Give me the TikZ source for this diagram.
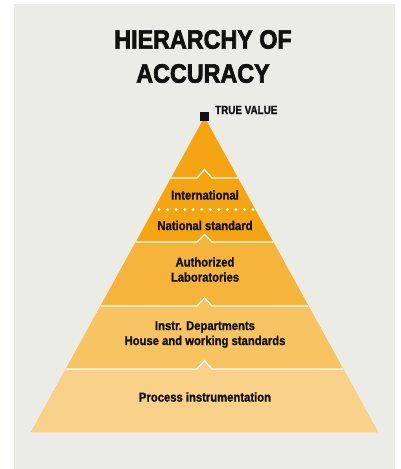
\documentclass[tikz,border=0pt]{standalone}
\usepackage{fontspec}
\setmainfont{Liberation Sans}
\newfontfamily\labfont[FakeStretch=0.88,FakeBold=1.2]{Liberation Sans}
\newfontfamily\titlefont[FakeStretch=0.88,FakeBold=2.5]{Liberation Sans}
\newfontfamily\tvfont[FakeStretch=0.82,FakeBold=1.2]{Liberation Sans}
\definecolor{bggray}{HTML}{ECECE7}
\definecolor{layA}{HTML}{F5A511}
\definecolor{layB}{HTML}{F6B43C}
\definecolor{layC}{HTML}{F8C462}
\definecolor{layD}{HTML}{FAD188}
\definecolor{ink}{HTML}{111111}
\begin{document}
\begin{tikzpicture}[x=1pt,y=-1pt,
  lab/.style={font=\labfont\bfseries\fontsize{12.8}{15}\selectfont, align=center, text=ink, inner sep=0pt},
  ttl/.style={font=\titlefont\bfseries\fontsize{26.5}{28}\selectfont, text=ink, inner sep=0pt},
  sep/.style={white, line width=1.2pt}]
\useasboundingbox (0,0) rectangle (401,469);
\fill[bggray] (14,4) rectangle (395,469);
% pyramid: apex (204.5,117), half width = 0.55*(y-117)
\fill[layA] (204.5,117) -- (377.75,432) -- (31.25,432) -- cycle;
% Authorized layer (242..306)
\fill[layB] (135.75,242) -- (197,242) -- (204.5,234.5) -- (212,242) -- (273.25,242) -- (308.45,306) -- (100.55,306) -- cycle;
% Instr layer (306..369)
\fill[layC] (100.55,306) -- (197,306) -- (204.5,298) -- (212,306) -- (308.45,306) -- (343.1,369) -- (65.9,369) -- cycle;
% Process layer (369..432)
\fill[layD] (65.9,369) -- (197,369) -- (204.5,360.5) -- (212,369) -- (343.1,369) -- (377.75,432) -- (31.25,432) -- cycle;
% separators
\draw[sep] (170.95,178) -- (197,178) -- (204.5,169.5) -- (212,178) -- (238.05,178);
\draw[sep] (135.75,242) -- (197,242) -- (204.5,234.5) -- (212,242) -- (273.25,242);
\draw[sep] (100.55,306) -- (197,306) -- (204.5,298) -- (212,306) -- (308.45,306);
\draw[sep] (65.9,369) -- (197,369) -- (204.5,360.5) -- (212,369) -- (343.1,369);
% dotted line
\foreach \i in {0,...,11} \fill[white] (159+\i*8.55,209.5) circle (1.7);
% apex square
\fill[ink] (200,112) rectangle (209,121);
% texts
\node[ttl] (title1) at (203,39.5) {HIERARCHY OF};
\node[ttl] (title2) at (203,73.5) {ACCURACY};
\node[font=\tvfont\bfseries\fontsize{12}{13}\selectfont, text=ink, inner sep=0pt, anchor=west] (tv) at (215,110) {TRUE VALUE};
\node[lab] (intl) at (205,195) {International};
\node[lab] (natl) at (205,225.5) {National standard};
\node[lab] (auth) at (205,269.5) {Authorized\\Laboratories};
\node[lab] (instr) at (205,334.5) {Instr. Departments\\House and working standards};
\node[lab] (proc) at (205,397) {Process instrumentation};
\end{tikzpicture}
\end{document}
